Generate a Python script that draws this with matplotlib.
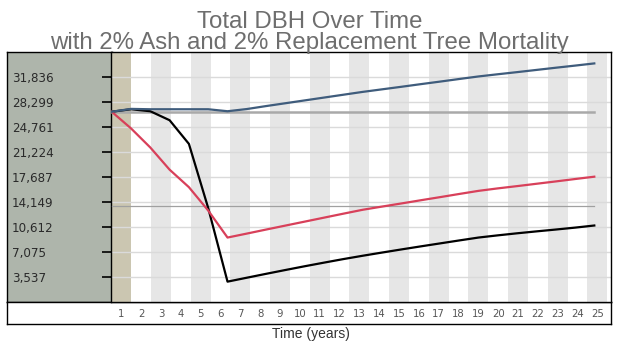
import matplotlib
matplotlib.use("Agg")
import matplotlib.pyplot as plt

# dati (anni 0..25)
years = list(range(26))
dbh_replacement = [26900, 27300, 27250, 27250, 27250, 27250, 26970, 27280, 27700, 28100,
                   28500, 28900, 29300, 29700, 30060, 30420, 30790, 31150, 31520, 31880,
                   32190, 32490, 32800, 33110, 33410, 33720]
dbh_mortality = [26900, 24550, 21850, 18720, 16250, 12950, 9140, 9700, 10270, 10830,
                 11390, 11950, 12510, 13060, 13510, 13950, 14400, 14840, 15290, 15730,
                 16080, 16400, 16730, 17060, 17400, 17730]
dbh_ash = [26900, 27250, 26970, 25700, 22360, 13300, 2915, 3470, 4020, 4560,
           5090, 5600, 6100, 6570, 7020, 7460, 7890, 8310, 8730, 9140,
           9450, 9740, 10010, 10270, 10540, 10840]
ref_start = [26900] * 26
ref_half = [13550] * 26

ytick_values = [3537, 7075, 10612, 14149, 17687, 21224, 24761, 28299, 31836]
ytick_labels = ["3,537", "7,075", "10,612", "14,149", "17,687", "21,224", "24,761", "28,299", "31,836"]
xtick_values = list(range(1, 26))
ymax = 35374

W, H = 619, 350
fig = plt.figure(figsize=(W / 100, H / 100), dpi=100)

def rect(x0, y0, x1, y1):
    return [x0 / W, 1 - y1 / H, (x1 - x0) / W, (y1 - y0) / H]

# pannello sinistro con le etichette y
ax_left = fig.add_axes(rect(7.3, 51.7, 111.5, 302.3))
ax_left.set_facecolor("#aeb5ab")
ax_left.set_xlim(0, 1)
ax_left.set_ylim(0, ymax)
ax_left.set_xticks([])
ax_left.set_yticks(ytick_values, ytick_labels)
ax_left.tick_params(axis="y", left=False, right=True, direction="in", length=7.5,
                    width=1.2, color="black", pad=-3.4, labelsize=8.6, labelcolor="#2a2a2a")
for lab in ax_left.get_yticklabels():
    lab.set_ha("left")
for s in ax_left.spines.values():
    s.set_color("black")
    s.set_linewidth(1)

# striscia inferiore
ax_bot = fig.add_axes(rect(7.3, 302.3, 611, 324))
ax_bot.set_xticks([])
ax_bot.set_yticks([])
for s in ax_bot.spines.values():
    s.set_color("black")
    s.set_linewidth(1)

# area del grafico con le bande
ax = fig.add_axes(rect(111.5, 51.7, 611, 302.3))
band_w = 19.83
ax.set_xlim(0.5, 0.5 + (611 - 111.5) / band_w)
ax.set_ylim(0, ymax)
for i in xtick_values:
    if i == 1:
        c = "#cbc6b1"
    elif i % 2 == 1:
        c = "#e6e6e6"
    else:
        c = "#ffffff"
    ax.axvspan(i - 0.5, i + 0.5, color=c, lw=0, zorder=0)
for v in ytick_values:
    ax.axhline(v, color="#dadada", lw=1, zorder=1)
ax.set_yticks([])
ax.set_xticks(xtick_values, [str(i) for i in xtick_values])
ax.tick_params(axis="x", length=0, pad=4.5, labelsize=7.3, labelcolor="#555555")
for s in ax.spines.values():
    s.set_color("black")
    s.set_linewidth(1)

# linee dei dati
ax_d = fig.add_axes(rect(111.5, 51.7, 611, 302.3))
ax_d.patch.set_visible(False)
ax_d.axis("off")
px = 25 / (594.3 - 111.7)
ax_d.set_xlim(-(111.7 - 111.5) * px, 25 + (611 - 594.3) * px)
ax_d.set_ylim(0, ymax)
ax_d.plot(years, ref_start, color="#a9a9a9", lw=1.8, zorder=2)
ax_d.plot(years, ref_half, color="#a0a0a0", lw=0.9, zorder=2)
ax_d.plot(years, dbh_ash, color="black", lw=1.6, zorder=3)
ax_d.plot(years, dbh_mortality, color="#d8405a", lw=1.6, zorder=3)
ax_d.plot(years, dbh_replacement, color="#3f5c7c", lw=1.6, zorder=4)

fig.text(0.5, 1 - 28.3 / H, "Total DBH Over Time", ha="center", va="baseline",
         fontsize=17.3, color="#6e6e6e", family="Liberation Sans")
fig.text(0.5, 1 - 49.3 / H, "with 2% Ash and 2% Replacement Tree Mortality", ha="center",
         va="baseline", fontsize=17.3, color="#6e6e6e", family="Liberation Sans")
fig.text(310.5 / W, 1 - 334 / H, "Time (years)", ha="center", va="center",
         fontsize=10, color="#333333", family="Liberation Sans")

fig.savefig("out.png", dpi=100)
